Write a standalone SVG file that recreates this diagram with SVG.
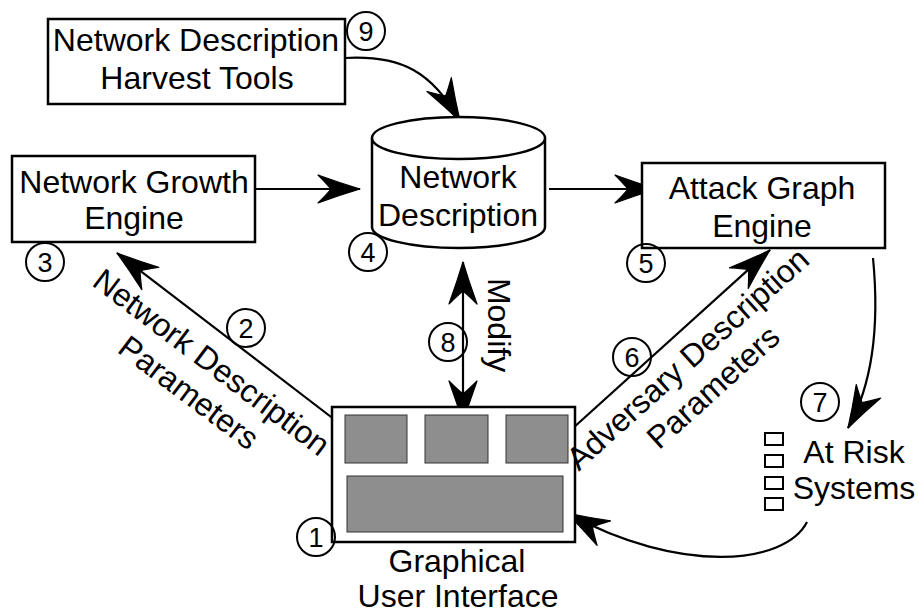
<svg xmlns="http://www.w3.org/2000/svg" width="919" height="616" viewBox="0 0 919 616">
  <style>
    text { font-family: "Liberation Sans", Arial, Helvetica, sans-serif; fill: #000; }
    .lbl { font-size: 32px; text-anchor: middle; }
    .num { font-size: 27px; text-anchor: middle; }
    .box { fill: #fff; stroke: #000; stroke-width: 2.5; }
    .badge { fill: none; stroke: #000; stroke-width: 2; }
    .panel { fill: #8e8e8e; stroke: #333; stroke-width: 1; }
    .sq { fill: #fff; stroke: #000; stroke-width: 2; }
    .conn { fill: none; stroke: #000; stroke-width: 2.2; }
    .arr { marker-end: url(#head); }
    .both { marker-start: url(#head); marker-end: url(#head); }
  </style>
  <defs>
    <!-- barbed arrowhead, tip at the path end -->
    <marker id="head" markerUnits="userSpaceOnUse" orient="auto-start-reverse" refX="0" refY="0" viewBox="-46 -16 50 32" markerWidth="50" markerHeight="32" overflow="visible">
      <path d="M0,0 Q-20,-6 -42,-14 Q-33,-5 -29,0 Q-33,5 -42,14 Q-20,6 0,0 Z" fill="#000" stroke="#000" stroke-width="1.2" stroke-linejoin="round"/>
    </marker>
  </defs>

  <!-- connectors -->
  <g id="connectors">
    <path class="conn arr" d="M345,58 C402,55 432,72 460,121"/>
    <path class="conn arr" d="M255,189 L360,189"/>
    <path class="conn arr" d="M549,189 L657,189"/>
    <path class="conn arr" d="M352,433 L117,253"/>
    <path class="conn arr" d="M562,438 L770,250"/>
    <path class="conn both" d="M463,423 L463,262"/>
    <path class="conn arr" d="M873,258 C880,330 872,385 848,428"/>
    <path class="conn arr" d="M807,522 C785,565 680,575 567,513"/>
  </g>

  <!-- harvest tools -->
  <g id="harvest">
    <rect class="box" x="48" y="19" width="297" height="85"/>
    <text class="lbl" x="196" y="51">Network Description</text>
    <text class="lbl" x="197" y="89">Harvest Tools</text>
    <circle class="badge" cx="366" cy="31" r="19"/>
    <text class="num" x="366" y="40.5">9</text>
  </g>

  <!-- network growth engine -->
  <g id="growth">
    <rect class="box" x="12" y="156" width="243" height="86"/>
    <text class="lbl" x="134" y="193">Network Growth</text>
    <text class="lbl" x="134" y="229">Engine</text>
    <circle class="badge" cx="45" cy="262" r="19"/>
    <text class="num" x="45" y="271.5">3</text>
  </g>

  <!-- network description store -->
  <g id="description">
    <path class="box" d="M372,138 L372,227 A86.5,21 0 0 0 545,227 L545,138"/>
    <ellipse class="box" cx="458.5" cy="138" rx="86.5" ry="21"/>
    <text class="lbl" x="458" y="188">Network</text>
    <text class="lbl" x="458" y="226">Description</text>
    <circle class="badge" cx="368" cy="252" r="19"/>
    <text class="num" x="368" y="261.5">4</text>
  </g>

  <!-- attack graph engine -->
  <g id="attack">
    <rect class="box" x="642" y="163" width="243" height="85"/>
    <text class="lbl" x="762" y="199">Attack Graph</text>
    <text class="lbl" x="762" y="237">Engine</text>
    <circle class="badge" cx="646" cy="263" r="19"/>
    <text class="num" x="646" y="272.5">5</text>
  </g>

  <!-- graphical user interface -->
  <g id="gui">
    <rect class="box" x="332" y="407" width="243" height="135" stroke-width="3"/>
    <rect class="panel" x="345" y="415" width="62" height="48"/>
    <rect class="panel" x="425" y="415" width="63" height="48"/>
    <rect class="panel" x="506" y="415" width="62" height="48"/>
    <rect class="panel" x="347" y="476" width="216" height="56"/>
    <text class="lbl" x="457" y="572">Graphical</text>
    <text class="lbl" x="458" y="607">User Interface</text>
    <circle class="badge" cx="316" cy="537" r="19"/>
    <text class="num" x="316" y="546.5">1</text>
  </g>

  <!-- at risk systems -->
  <g id="atrisk">
    <rect class="sq" x="765" y="433" width="18" height="12"/>
    <rect class="sq" x="765" y="455" width="18" height="12"/>
    <rect class="sq" x="765" y="477" width="18" height="12"/>
    <rect class="sq" x="765" y="498" width="18" height="12"/>
    <text class="lbl" x="854" y="463">At Risk</text>
    <text class="lbl" x="854" y="499">Systems</text>
    <circle class="badge" cx="820" cy="402" r="19"/>
    <text class="num" x="820" y="411.5">7</text>
  </g>

  <!-- connector labels -->
  <g id="label-network-params">
    <g transform="translate(205,371) rotate(37)">
      <text class="lbl" x="0" y="0">Network Description</text>
      <text class="lbl" x="0" y="38">Parameters</text>
    </g>
    <circle class="badge" cx="246" cy="328" r="19"/>
    <text class="num" x="246" y="337.5">2</text>
  </g>

  <g id="label-adversary-params">
    <g transform="translate(695,367) rotate(-42)">
      <text class="lbl" x="0" y="0">Adversary Description</text>
      <text class="lbl" x="0" y="38">Parameters</text>
    </g>
    <circle class="badge" cx="632" cy="357" r="19"/>
    <text class="num" x="632" y="366.5">6</text>
  </g>

  <g id="label-modify">
    <text class="lbl" transform="translate(488,325) rotate(90)" x="0" y="0">Modify</text>
    <circle class="badge" cx="448" cy="342" r="19"/>
    <text class="num" x="448" y="351.5">8</text>
  </g>
</svg>
